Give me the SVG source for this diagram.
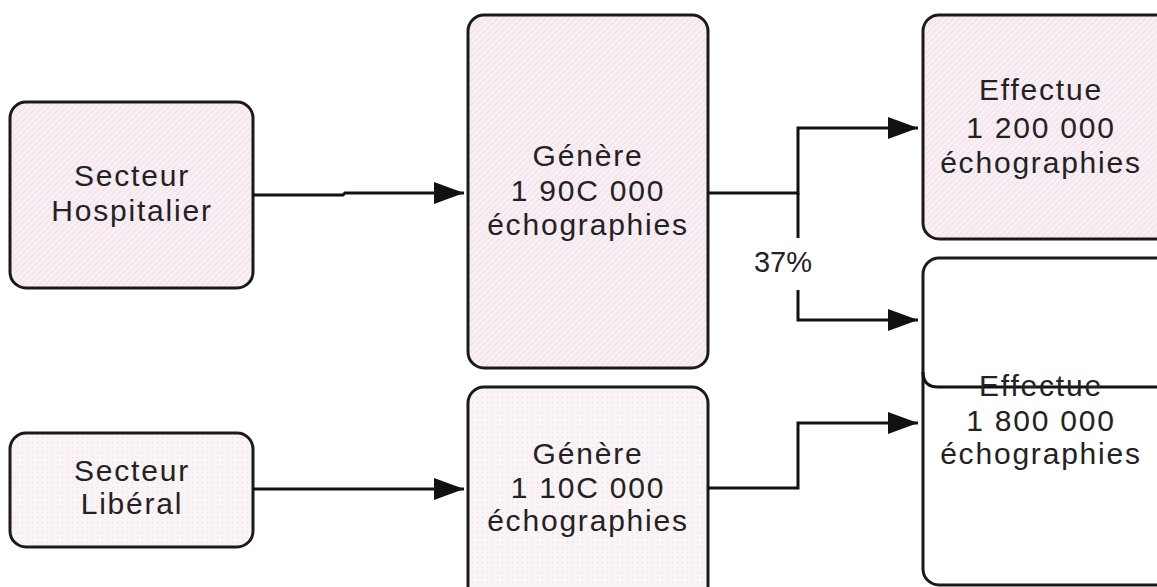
<svg xmlns="http://www.w3.org/2000/svg" width="1157" height="587" viewBox="0 0 1157 587">
<style>
.box{stroke:#1a1a1a;stroke-width:3}
.pink{fill:url(#hatch)}
.dot{fill:url(#dots)}
.white{fill:#ffffff}
.t{font-family:"Liberation Sans",Arial,sans-serif;font-size:30px;fill:#222;text-anchor:middle;letter-spacing:1.8px}
.c{fill:none;stroke:#111;stroke-width:3}
</style>
<defs>
<pattern id="hatch" width="6" height="6" patternUnits="userSpaceOnUse">
<rect width="6" height="6" fill="#f8eef4"/>
<path d="M0 6L6 0" stroke="#ecdfe8" stroke-width="1"/>
</pattern>
<pattern id="dots" width="5" height="5" patternUnits="userSpaceOnUse">
<rect width="5" height="5" fill="#fbf4f7"/>
<circle cx="2.5" cy="2.5" r="0.7" fill="#eadde4"/>
</pattern>
<marker id="arr" markerWidth="30" markerHeight="22" refX="30" refY="11" orient="auto" markerUnits="userSpaceOnUse">
<path d="M0 0L30 11L0 22Z" fill="#111"/>
</marker>
</defs>
<rect width="1157" height="587" fill="#ffffff"/>
<g id="hospitalier">
<rect class="box pink" x="10" y="102" width="243" height="186" rx="16"/>
<text class="t" x="132" y="186">Secteur</text>
<text class="t" x="132" y="221">Hospitalier</text>
</g>
<g id="genere-h">
<rect class="box pink" x="468" y="15" width="240" height="353" rx="16"/>
<text class="t" x="588" y="166">Génère</text>
<text class="t" x="588" y="201">1 90C 000</text>
<text class="t" x="588" y="235">échographies</text>
</g>
<g id="effectue-1">
<rect class="box pink" x="923" y="15" width="250" height="224" rx="16"/>
<text class="t" x="1041" y="100">Effectue</text>
<text class="t" x="1041" y="138">1 200 000</text>
<text class="t" x="1041" y="173">échographies</text>
</g>
<g id="effectue-2">
<rect class="box white" x="923" y="258" width="250" height="327" rx="16"/>
<path class="c" d="M923 372 Q923 387 938 387 L1157 387" stroke-width="2.5"/>
<text class="t" x="1041" y="396">Effectue</text>
<text class="t" x="1041" y="431">1 800 000</text>
<text class="t" x="1041" y="464">échographies</text>
</g>
<g id="liberal">
<rect class="box dot" x="10" y="433" width="243" height="114" rx="16"/>
<text class="t" x="132" y="481">Secteur</text>
<text class="t" x="132" y="514">Libéral</text>
</g>
<g id="genere-l">
<rect class="box dot" x="468" y="387" width="240" height="220" rx="16"/>
<text class="t" x="588" y="464">Génère</text>
<text class="t" x="588" y="498">1 10C 000</text>
<text class="t" x="588" y="531">échographies</text>
</g>
<g id="connectors">
<path class="c" d="M253 195 L343 195 L345 193 L464 193" marker-end="url(#arr)"/>
<path class="c" d="M708 193 L798 193 L798 128 L918 128" marker-end="url(#arr)"/>
<path class="c" d="M798 193 L798 238"/>
<path class="c" d="M798 290 L798 320 L918 320" marker-end="url(#arr)"/>
<path class="c" d="M253 489 L464 489" marker-end="url(#arr)"/>
<path class="c" d="M708 488 L798 488 L798 423 L918 423" marker-end="url(#arr)"/>
<text x="783" y="272" font-family="Liberation Sans, Arial, sans-serif" font-size="29" fill="#222" text-anchor="middle">37%</text>
</g>
</svg>
